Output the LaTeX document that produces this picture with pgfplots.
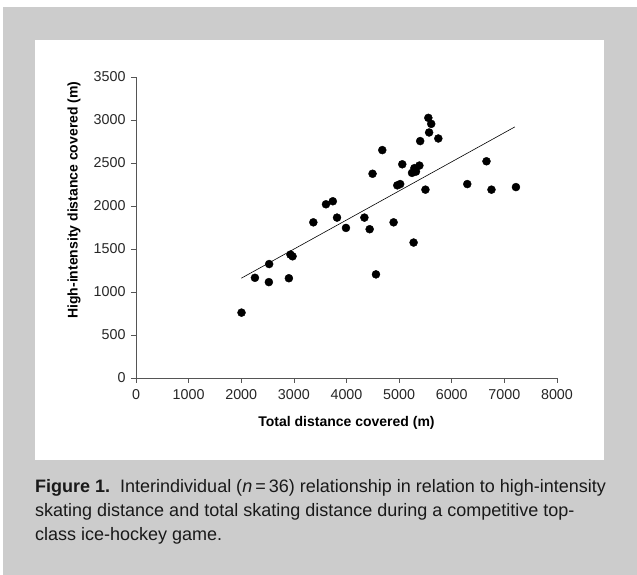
\documentclass[border=0pt]{standalone}
\usepackage{pgfplots}
\pgfplotsset{compat=1.18}
\usepackage{fontspec}
\setmainfont{Liberation Sans}
\definecolor{bggray}{HTML}{CCCCCC}
\definecolor{axgray}{HTML}{555555}
\begin{document}
\begin{tikzpicture}
\fill[white] (0bp,0bp) rectangle (637bp,575bp);
\fill[bggray] (3bp,0bp) rectangle (637bp,568bp);
\fill[white] (35bp,115bp) rectangle (604bp,535bp);
\begin{axis}[
  at={(136bp,197bp)}, anchor=south west,
  scale only axis, width=421bp, height=301bp,
  xmin=0, xmax=8000, ymin=0, ymax=3500,
  axis lines*=left,
  axis line style={axgray, line width=0.7pt},
  xtick={0,1000,...,8000}, ytick={0,500,...,3500},
  tick align=outside, major tick length=5bp,
  tick style={axgray, line width=0.7pt},
  /pgf/number format/assume math mode=true,
  /pgf/number format/1000 sep={},
  tick label style={font=\fontsize{14.3bp}{16bp}\selectfont, text=black!85},
  xticklabel style={yshift=-3bp},
  yticklabel style={xshift=-2bp},
  xlabel={Total distance covered (m)},
  ylabel={High-intensity distance covered (m)},
  xlabel style={font=\bfseries\fontsize{14bp}{16bp}\selectfont, at={(axis description cs:0.5,-0.1495)}, anchor=center},
  ylabel style={font=\bfseries\fontsize{14bp}{16bp}\selectfont, at={(axis description cs:-0.147,0.591)}, anchor=center},
  clip=false,
]
\addplot[black, line width=0.6pt] coordinates {(2000,1160) (7200,2920)};
\addplot[only marks, mark=*, mark size=4bp, black] coordinates {
(2005,760) (2260,1165) (2530,1325) (2525,1115) (2905,1160) (2935,1435)
(2975,1415) (3370,1810) (3610,2020) (3740,2055) (3820,1865) (3990,1745)
(4340,1865) (4440,1730) (4495,2375) (4560,1205) (4680,2650) (4895,1810)
(4965,2240) (5020,2255) (5060,2485) (5245,2385) (5275,1575) (5290,2440)
(5320,2400) (5385,2470) (5400,2755) (5500,2190) (5555,3025) (5570,2855)
(5610,2955) (5745,2785) (6295,2255) (6660,2520) (6755,2190) (7220,2220)
};
\end{axis}
\begin{scope}[every node/.style={anchor=base west, inner sep=0pt, font=\fontsize{18bp}{22bp}\selectfont, text=black!90}]
\node at (35bp,82bp) {\textbf{Figure 1.}\ \ Interindividual (\textit{n}\,=\,36) relationship in relation to high-intensity};
\node at (35bp,58bp) {skating distance and total skating distance during a competitive top-};
\node at (35bp,35bp) {class ice-hockey game.};
\end{scope}
\end{tikzpicture}
\end{document}
